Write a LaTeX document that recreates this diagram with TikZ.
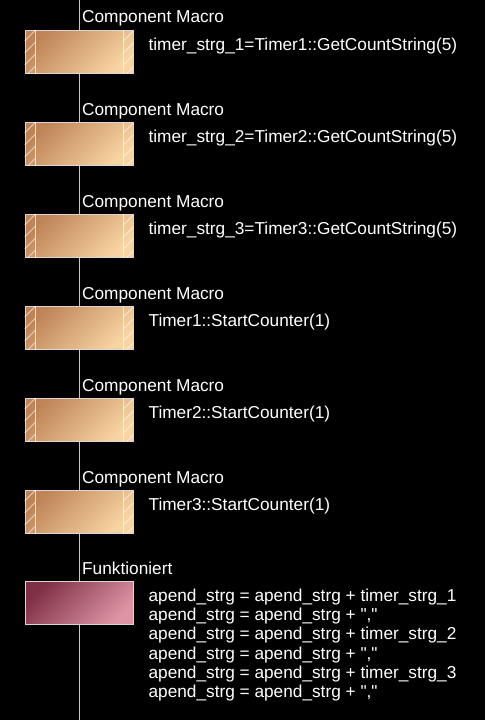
\documentclass[tikz,border=0pt]{standalone}
\usepackage{fontspec}
\setmainfont{Liberation Sans}
\usetikzlibrary{positioning}
\usetikzlibrary{calc}

\definecolor{achsgrau}{RGB}{200,200,200}
\definecolor{rahmen}{RGB}{215,215,215}
\definecolor{tandunkel}{RGB}{190,132,88}
\definecolor{tanhell}{RGB}{248,212,162}
\definecolor{rosadunkel}{RGB}{128,48,70}
\definecolor{rosahell}{RGB}{222,148,165}

\begin{document}
\begin{tikzpicture}[%
x=1pt, y=-1pt,
every node/.style={font=\fontsize{17.25}{19.3}\selectfont, text=white},
achse/.style={draw=achsgrau, line width=0.9pt},
baustein/.style={draw=rahmen, line width=0.8pt, minimum width=108pt, minimum height=43pt, inner sep=0pt, anchor=north},
makro/.style={baustein, left color=tandunkel, right color=tanhell, shading angle=45},
funktion/.style={baustein, left color=rosadunkel, right color=rosahell, shading angle=45},
titel/.style={anchor=base west, inner sep=0pt},
code/.style={anchor=base west, inner sep=0pt, align=left},
schraffur/.style={draw=white, opacity=.7, line width=0.6pt},
]

\fill[black] (0,0) rectangle (485,720);
\useasboundingbox (0,0) rectangle (485,720);

\coordinate (oben) at (79,0);
\coordinate (unten) at (79,720);

% Komponenten-Makros
\foreach \nr/\ypos/\befehl in {%
1/30/{timer\_strg\_1=Timer1::GetCountString(5)},
2/122/{timer\_strg\_2=Timer2::GetCountString(5)},
3/214/{timer\_strg\_3=Timer3::GetCountString(5)},
4/306/{Timer1::StartCounter(1)},
5/398/{Timer2::StartCounter(1)},
6/490/{Timer3::StartCounter(1)}}{
\node[makro] (m\nr) at (79,\ypos) {};
\node[titel] (t\nr) at ([xshift=3pt, yshift=7pt]m\nr.north) {Component Macro};
\node[code] (c\nr) at ([xshift=15pt, yshift=-20pt]m\nr.north east) {\befehl};
% Streifen links und rechts
\draw[schraffur] ([xshift=11pt]m\nr.north west) -- ([xshift=11pt]m\nr.south west);
\draw[schraffur] ([xshift=-10pt]m\nr.north east) -- ([xshift=-10pt]m\nr.south east);
\begin{scope}
\clip (m\nr.north west) rectangle ([xshift=11pt]m\nr.south west);
\foreach \k in {0,12,...,48}
  \draw[schraffur] ([yshift=-\k pt-11pt]m\nr.north west) -- ++(11,-11);
\end{scope}
\begin{scope}
\clip ([xshift=-10pt]m\nr.north east) rectangle (m\nr.south east);
\foreach \k in {0,12,...,48}
  \draw[schraffur] ([xshift=-10pt, yshift=-\k pt-11pt]m\nr.north east) -- ++(11,-11);
\end{scope}
}

% Funktion
\node[funktion] (f) at (79,581) {};
\node[titel] (tf) at ([xshift=3pt, yshift=7pt]f.north) {Funktioniert};
\node[code, anchor=north west] (cf) at ([xshift=15pt, yshift=-7.6pt]f.north east) {%
apend\_strg = apend\_strg + timer\_strg\_1\\
apend\_strg = apend\_strg + \textquotedbl,\textquotedbl\\
apend\_strg = apend\_strg + timer\_strg\_2\\
apend\_strg = apend\_strg + \textquotedbl,\textquotedbl\\
apend\_strg = apend\_strg + timer\_strg\_3\\
apend\_strg = apend\_strg + \textquotedbl,\textquotedbl};

% Zeitachse
\draw[achse] (oben) -- (m1.north);
\draw[achse] (m1.south) -- (m2.north);
\draw[achse] (m2.south) -- (m3.north);
\draw[achse] (m3.south) -- (m4.north);
\draw[achse] (m4.south) -- (m5.north);
\draw[achse] (m5.south) -- (m6.north);
\draw[achse] (m6.south) -- (f.north);
\draw[achse] (f.south) -- (unten);

\end{tikzpicture}
\end{document}
